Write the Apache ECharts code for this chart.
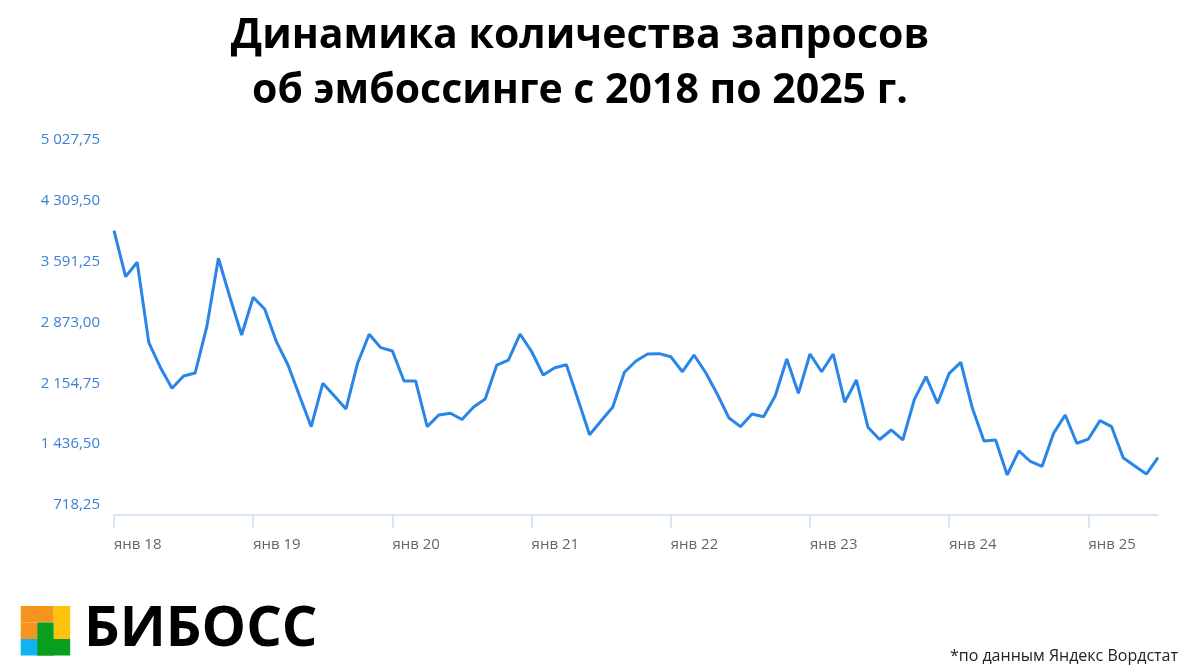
<!DOCTYPE html>
<html>
<head>
<meta charset="utf-8">
<script src="https://cdn.jsdelivr.net/npm/echarts@6/dist/echarts.min.js"></script>
<style>
html,body{margin:0;padding:0;background:#fff;}
#chart{width:1180px;height:670px;}
</style>
</head>
<body>
<div id="chart"></div>
<script>
// Month categories Jan 2018 – Jul 2025
const monthNames = ['янв','фев','мар','апр','май','июн','июл','авг','сен','окт','ноя','дек'];
const years = [18,19,20,21,22,23,24,25];
const categories = [];
years.forEach(function(y){ monthNames.forEach(function(m, i){ if (y < 25 || i < 7) categories.push(m + ' ' + y); }); });

// Monthly request counts
const requests = [
  3957, 3414, 3584, 2635, 2342, 2096, 2241, 2277, 2824, 3631, 3168, 2726,
  3171, 3029, 2647, 2371, 2005, 1643, 2155, 2005, 1852, 2392, 2734, 2576,
  2537, 2183, 2183, 1643, 1781, 1801, 1728, 1875, 1970, 2371, 2430, 2737,
  2531, 2253, 2339, 2375, 1964, 1548, 1712, 1875, 2285, 2419, 2501, 2505,
  2469, 2292, 2489, 2283, 2029, 1749, 1643, 1793, 1761, 2005, 2442, 2037,
  2501, 2292, 2501, 1931, 2194, 1636, 1492, 1604, 1486, 1966, 2233, 1919,
  2273, 2403, 1860, 1474, 1486, 1073, 1356, 1232, 1173, 1565, 1781, 1447,
  1497, 1714, 1643, 1277, 1179, 1084, 1277
];

// Y axis ticks
const yMin = 718.25;
const yMax = 5027.75;
const yStep = 718.25;

const titleText = 'Динамика количества запросов\nоб эмбоссинге с 2018 по 2025 г.';
const brandText = 'БИБОСС';
const sourceText = '*по данным Яндекс Вордстат';

function fmtNum(v){
  const s = v.toFixed(2).split('.');
  const intPart = s[0].replace(/\B(?=(\d{3})+(?!\d))/g, ' ');
  return intPart + ',' + s[1];
}

const chart = echarts.init(document.getElementById('chart'), null, {renderer:'canvas'});
const cell = 16.5, lx = 20.7, ly = 606;
chart.setOption({
  backgroundColor: '#ffffff',
  animation: false,
  grid: {left:114, right:22, top:140, bottom:165},
  xAxis: {
    type: 'category',
    data: categories,
    boundaryGap: false,
    offset: 10,
    axisLine: {lineStyle:{color:'#cfdcef', width:1.5}},
    axisTick: {length:13, interval: function(i){ return i % 12 === 0; }, lineStyle:{color:'#cfdcef', width:1.5}},
    axisLabel: {
      interval: function(i){ return i % 12 === 0; },
      align: 'left',
      margin: 22,
      color: '#666',
      fontFamily: 'Open Sans',
      fontSize: 15
    },
    splitLine: {show:false}
  },
  yAxis: {
    type: 'value',
    min: yMin,
    max: yMax,
    interval: yStep,
    axisLine: {show:false},
    axisTick: {show:false},
    splitLine: {show:false},
    axisLabel: {
      margin: 14,
      color: '#3a7fd8',
      fontFamily: 'Open Sans',
      fontSize: 15,
      formatter: function(v){ return fmtNum(v); }
    }
  },
  series: [{
    type: 'line',
    data: requests,
    symbol: 'none',
    lineStyle: {color:'#2a85e8', width:3},
    itemStyle: {color:'#2a85e8'}
  }],
  graphic: [
    {type:'text', x:580, y:64, style:{text:titleText, font:'bold 41px "Open Sans"', lineHeight:55, fill:'#000', textAlign:'center', textVerticalAlign:'middle'}},
    {type:'rect', shape:{x:lx, y:ly, width:cell*2, height:cell}, style:{fill:'#f7941d'}},
    {type:'rect', shape:{x:lx, y:ly+cell, width:cell, height:cell}, style:{fill:'#f7941d'}},
    {type:'rect', shape:{x:lx+cell*2, y:ly, width:cell, height:cell*2}, style:{fill:'#ffc20e'}},
    {type:'rect', shape:{x:lx+cell, y:ly+cell, width:cell, height:cell*2}, style:{fill:'#0a9e1e'}},
    {type:'rect', shape:{x:lx+cell, y:ly+cell*2, width:cell*2, height:cell}, style:{fill:'#0a9e1e'}},
    {type:'rect', shape:{x:lx, y:ly+cell*2, width:cell, height:cell}, style:{fill:'#0db4f0'}},
    {type:'text', x:84, y:630, style:{text:brandText, font:'bold 56px "Open Sans"', fill:'#000', textVerticalAlign:'middle'}},
    {type:'text', x:1178, y:656, style:{text:sourceText, font:'16px "Open Sans"', fill:'#222', textAlign:'right', textVerticalAlign:'middle'}}
  ]
});
</script>
</body>
</html>
